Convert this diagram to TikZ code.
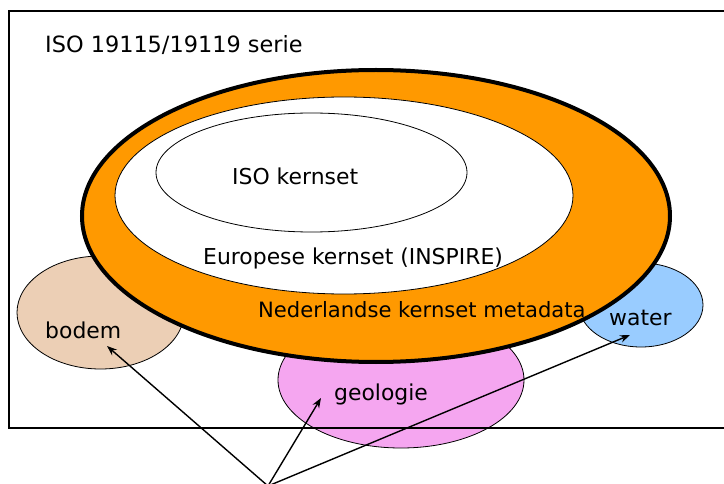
\documentclass[tikz,border=0pt]{standalone}
\usepackage{fontspec}
\setmainfont{DejaVu Sans}
\usetikzlibrary{shapes.geometric,arrows.meta}
\definecolor{kernorange}{RGB}{255,153,0}
\definecolor{bodemtan}{RGB}{236,207,181}
\definecolor{geopink}{RGB}{245,166,240}
\definecolor{waterblue}{RGB}{153,204,255}
\begin{document}
\begin{tikzpicture}[x=1pt,y=-1pt,
  blob/.style={ellipse,draw,inner sep=0pt,outer sep=0pt,line width=0.8pt},
  lbl/.style={anchor=base west,inner sep=0pt,font=\fontsize{21.9}{26}\selectfont},
  pointer/.style={-{Stealth[length=10pt,width=7.5pt]},line width=1.4pt}]
\useasboundingbox (0,0) rectangle (724,484);
\clip (0,0) rectangle (724,484);

% domain sets around the core
\node[blob,fill=bodemtan,minimum width=167pt,minimum height=113pt] (bodem) at (100.5,312.5) {};
\node[blob,fill=geopink,minimum width=246pt,minimum height=136pt] (geologie) at (401,380) {};
\node[blob,fill=waterblue,minimum width=124pt,minimum height=84pt] (water) at (641,305) {};

% nested core sets
\node[blob,fill=kernorange,line width=4pt,minimum width=588pt,minimum height=292pt] (nl) at (376,216) {};
\node[blob,fill=white,minimum width=458pt,minimum height=197pt] (eu) at (344,195.5) {};
\node[blob,fill=white,minimum width=311pt,minimum height=119pt] (iso) at (311.5,172.5) {};

% labels
\node[lbl,font=\fontsize{22.4}{26}\selectfont] (serie) at (45,53) {ISO 19115/19119 serie};
\node[lbl] (isolbl) at (232,185) {ISO kernset};
\node[lbl] (eulbl) at (203,265) {Europese kernset (INSPIRE)};
\node[lbl,font=\fontsize{21.1}{25}\selectfont] (nllbl) at (258,317) {Nederlandse kernset metadata};
\node[lbl] (bodemlbl) at (45,338) {bodem};
\node[lbl] (geolbl) at (334,400) {geologie};
\node[lbl] (waterlbl) at (609,326) {water};

% outer frame
\node[draw,line width=2pt,inner sep=0pt,outer sep=0pt,anchor=north west,
      minimum width=740pt,minimum height=417pt] (frame) at (9,11) {};

% pointers from a common origin
\coordinate (origin) at (268,486);
\coordinate (tipbodem) at (107,346);
\coordinate (tipgeo) at (321,398);
\coordinate (tipwater) at (630,335);
\draw[pointer] (origin) -- (tipbodem);
\draw[pointer] (origin) -- (tipgeo);
\draw[pointer] (origin) -- (tipwater);
\end{tikzpicture}
\end{document}
